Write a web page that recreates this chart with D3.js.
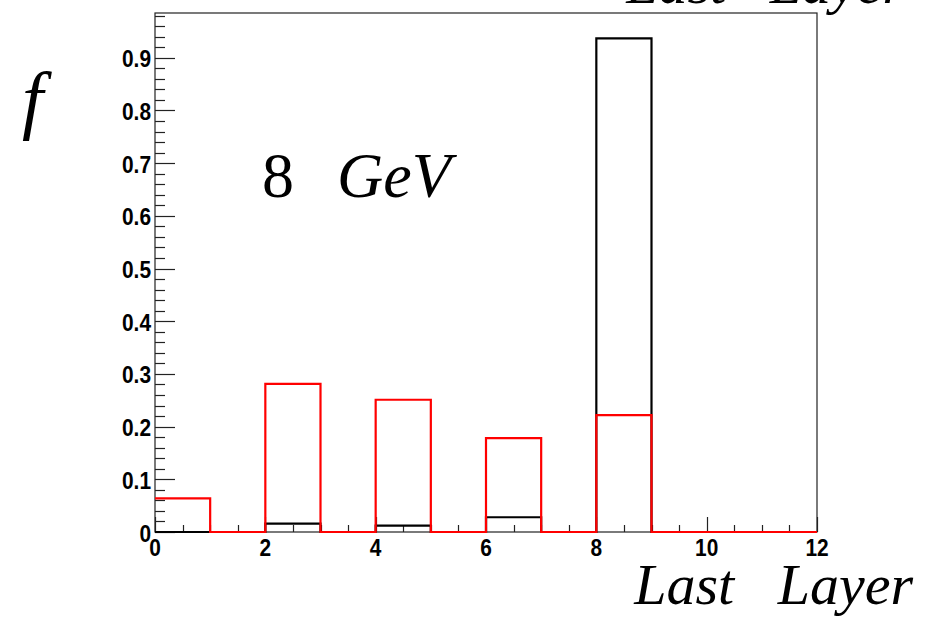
<!DOCTYPE html>
<html lang="en">
<head>
    <meta charset="UTF-8">
    <title>Last Layer - 8 GeV</title>
    <script src="https://d3js.org/d3.v7.min.js"></script>
    <style>
        body { margin: 0; background: #fff; }
    </style>
</head>
<body>
<script>
    var w = 933;
    var h = 622;

    // bin edges: 12 bins from 0 to 12 (Last Layer)
    var binEdges = [0, 1, 2, 3, 4, 5, 6, 7, 8, 9, 10, 11, 12];
    // fraction per bin, black histogram
    var blackValues = [0.0, 0.0, 0.016, 0.0, 0.012, 0.0, 0.028, 0.0, 0.937, 0.0, 0.0, 0.0];
    // fraction per bin, red histogram
    var redValues = [0.064, 0.0, 0.281, 0.0, 0.251, 0.0, 0.178, 0.0, 0.222, 0.0, 0.0, 0.0];

    var xTickLabels = [0, 2, 4, 6, 8, 10, 12];
    var yTickLabels = [0, 0.1, 0.2, 0.3, 0.4, 0.5, 0.6, 0.7, 0.8, 0.9];

    var padL = 155, padR = 817, padT = 13, padB = 532;

    var xScale = d3.scaleLinear().domain([0, 12]).range([padL, padR]);
    var yScale = d3.scaleLinear().domain([0, 0.985]).range([padB, padT]);

    var sans = "'Liberation Sans', Arial, sans-serif";
    var serif = "'Liberation Serif', 'Times New Roman', serif";

    var svg = d3.select("body").append("svg")
        .attr("width", w)
        .attr("height", h);

    // frame
    svg.append("rect")
        .attr("x", padL)
        .attr("y", padT)
        .attr("width", padR - padL)
        .attr("height", padB - padT)
        .attr("fill", "none")
        .attr("stroke", "#222")
        .attr("stroke-width", 1.2);

    // y ticks: major every 0.1, minor every 0.02
    var yMinor = d3.range(0, 0.985, 0.02);
    svg.selectAll(".yminor")
        .data(yMinor)
        .enter().append("line")
        .attr("x1", padL)
        .attr("x2", function(d, i) { return i % 5 === 0 ? padL + 20 : padL + 10; })
        .attr("y1", function(d) { return Math.round(yScale(d)) + 0.5; })
        .attr("y2", function(d) { return Math.round(yScale(d)) + 0.5; })
        .attr("stroke", "#222")
        .attr("stroke-width", 1.2);

    // tick labels: helvetica bold, a bit condensed
    function tickText(sel) {
        sel.style("font-family", sans)
            .style("font-weight", "bold")
            .style("font-size", "24px")
            .attr("fill", "#000");
    }

    svg.selectAll(".ylab")
        .data(yTickLabels)
        .enter().append("text")
        .attr("transform", function(d) {
            return "translate(151," + (yScale(d) + 9.5) + ") scale(0.87,1)";
        })
        .attr("text-anchor", "end")
        .call(tickText)
        .text(function(d) { return d; });

    // x ticks: major every 2, minor every 0.5
    var xMinor = d3.range(0, 12.01, 0.5);
    svg.selectAll(".xminor")
        .data(xMinor)
        .enter().append("line")
        .attr("x1", function(d) { return Math.round(xScale(d)) + 0.5; })
        .attr("x2", function(d) { return Math.round(xScale(d)) + 0.5; })
        .attr("y1", padB)
        .attr("y2", function(d, i) { return i % 4 === 0 ? padB - 15 : padB - 7; })
        .attr("stroke", "#222")
        .attr("stroke-width", 1.2);

    svg.selectAll(".xlab")
        .data(xTickLabels)
        .enter().append("text")
        .attr("transform", function(d) {
            return "translate(" + xScale(d) + ",556) scale(0.87,1)";
        })
        .attr("text-anchor", "middle")
        .call(tickText)
        .text(function(d) { return d; });

    // step outline of a histogram
    function stepPath(values) {
        var pts = [];
        values.forEach(function(v, i) {
            pts.push([xScale(binEdges[i]), yScale(v)]);
            pts.push([xScale(binEdges[i + 1]), yScale(v)]);
        });
        return d3.line()(pts);
    }

    svg.append("path")
        .attr("d", stepPath(blackValues))
        .attr("fill", "none")
        .attr("stroke", "#000")
        .attr("stroke-width", 2.2);

    svg.append("path")
        .attr("d", stepPath(redValues))
        .attr("fill", "none")
        .attr("stroke", "#ff0000")
        .attr("stroke-width", 2.2);

    // texts
    function title(x, y, size, str, anchor) {
        return svg.append("text")
            .attr("x", x)
            .attr("y", y)
            .attr("text-anchor", anchor)
            .style("font-family", serif)
            .style("font-style", "italic")
            .style("font-size", size + "px")
            .style("white-space", "pre")
            .text(str);
    }
    title(913, 604, 58, "Last   Layer", "end");
    title(905, 3, 58, "Last   Layer", "end");
    title(22, 125, 76, "f", "start");

    var label = svg.append("text")
        .attr("x", 262)
        .attr("y", 197)
        .style("font-family", serif)
        .style("font-size", "64px")
        .attr("fill", "#000");
    label.append("tspan").text("8");
    label.append("tspan")
        .attr("x", 337)
        .style("font-style", "italic")
        .text("GeV");
</script>
</body>
</html>
